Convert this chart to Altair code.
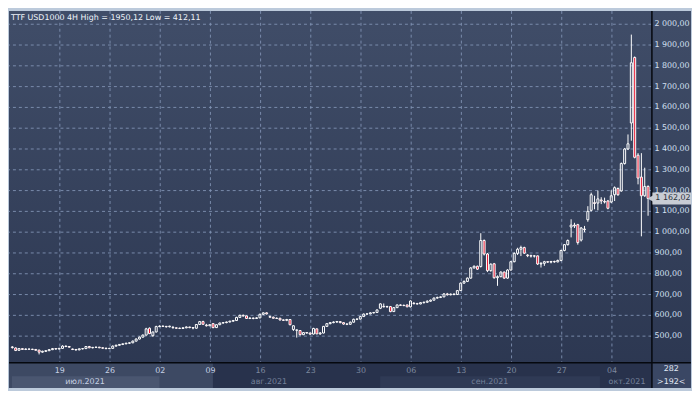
import altair as alt
import pandas as pd

# ---------------- data ----------------
opens = [448, 443, 432, 440, 436, 438, 437, 436, 433, 423,
         427, 430, 435, 440, 438, 441, 452, 450, 438, 436,
         434, 439, 440, 450, 444, 446, 447, 444, 442, 440,
         441, 452, 456, 460, 463, 466, 468, 476, 486, 495,
         505, 538, 502, 520, 546, 548, 547, 545, 542, 540,
         538, 537, 540, 544, 541, 538, 556, 570, 553, 550,
         560, 541, 555, 563, 565, 568, 572, 575, 590, 600,
         597, 585, 587, 585, 588, 605, 612, 594, 591, 586,
         586, 578, 576, 580, 532, 528, 527, 507, 517, 515,
         510, 535, 511, 515, 547, 560, 565, 568, 570, 565,
         558, 557, 567, 581, 582, 594, 606, 607, 612, 614,
         634, 643, 641, 642, 618, 637, 650, 648, 650, 641,
         658, 656, 655, 661, 663, 668, 673, 683, 686, 689,
         703, 699, 702, 700, 719, 755, 763, 779, 828, 836,
         835, 960, 895, 815, 848, 781, 786, 808, 779, 818,
         858, 898, 918, 926, 890, 887, 885, 886, 847, 850,
         858, 856, 859, 857, 864, 912, 940, 1025, 1034, 1036,
         962, 1015, 1060, 1105, 1142, 1140, 1155, 1148, 1150, 1145,
         1180, 1210, 1198, 1330, 1400, 1525, 1840, 1370, 1265, 1175,
         1220]
highs = [452, 446, 443, 442, 441, 440, 439, 437, 434, 430,
         433, 437, 443, 442, 444, 456, 455, 452, 440, 438,
         441, 442, 452, 453, 448, 449, 448, 446, 444, 444,
         455, 459, 462, 465, 468, 470, 479, 489, 498, 508,
         540, 542, 522, 550, 552, 551, 549, 550, 549, 542,
         541, 543, 547, 545, 543, 558, 573, 574, 559, 558,
         563, 557, 565, 567, 570, 574, 578, 593, 603, 604,
         599, 590, 589, 591, 608, 614, 615, 598, 594, 590,
         588, 581, 583, 582, 552, 532, 529, 520, 519, 516,
         540, 537, 520, 549, 563, 568, 571, 573, 572, 563,
         562, 570, 584, 585, 597, 609, 610, 615, 616, 628,
         658, 657, 646, 645, 640, 652, 653, 652, 652, 672,
         664, 660, 663, 666, 672, 676, 686, 690, 692, 707,
         708, 705, 706, 722, 758, 768, 782, 832, 840, 839,
         995, 965, 900, 850, 852, 792, 812, 811, 822, 862,
         903, 925, 935, 930, 894, 892, 890, 888, 856, 862,
         861, 862, 863, 868, 915, 943, 965, 1062, 1045, 1040,
         1025, 1030, 1125, 1190, 1175, 1200, 1168, 1166, 1155, 1202,
         1220, 1215, 1335, 1405, 1470, 1950.12, 1845, 1380, 1380, 1310,
         1225]
lows = [440, 428, 430, 434, 433, 434, 433, 429, 412.11, 420,
        424, 428, 433, 435, 436, 439, 447, 444, 433, 430,
        432, 436, 438, 442, 441, 443, 442, 438, 437, 438,
        440, 450, 454, 457, 461, 462, 466, 474, 484, 493,
        503, 510, 497, 518, 543, 544, 541, 542, 537, 535,
        534, 535, 538, 538, 533, 536, 554, 555, 546, 548,
        538, 539, 553, 560, 562, 566, 569, 573, 588, 594,
        583, 582, 581, 583, 586, 602, 604, 588, 584, 583,
        575, 573, 572, 552, 525, 493, 503, 505, 512, 505,
        508, 509, 506, 513, 545, 557, 562, 564, 562, 555,
        553, 555, 565, 577, 580, 592, 603, 605, 609, 612,
        630, 638, 637, 615, 616, 635, 645, 644, 639, 638,
        653, 652, 653, 657, 660, 665, 671, 680, 683, 687,
        695, 696, 697, 698, 717, 752, 760, 776, 825, 818,
        830, 888, 808, 810, 776, 742, 783, 775, 776, 815,
        855, 890, 885, 895, 880, 878, 878, 842, 830, 838,
        852, 850, 853, 855, 860, 908, 936, 975, 1020, 940,
        955, 1000, 1050, 1100, 1110, 1105, 1135, 1138, 1110, 1140,
        1150, 1175, 1195, 1325, 1395, 1440, 1355, 1230, 980, 1170,
        1079]
closes = [445, 431, 440, 436, 438, 437, 436, 432, 423, 427,
          430, 435, 440, 438, 441, 452, 450, 447, 436, 434,
          439, 440, 450, 444, 446, 447, 444, 442, 440, 441,
          452, 456, 460, 463, 466, 468, 476, 486, 495, 505,
          535, 512, 520, 546, 548, 547, 545, 548, 540, 538,
          537, 540, 544, 541, 539, 556, 570, 557, 550, 555,
          541, 555, 563, 565, 568, 572, 575, 590, 600, 597,
          585, 587, 585, 588, 605, 612, 607, 591, 586, 585,
          578, 576, 580, 555, 550, 530, 507, 517, 515, 510,
          537, 511, 515, 547, 560, 565, 568, 570, 565, 558,
          557, 567, 581, 582, 594, 606, 607, 612, 614, 626,
          655, 641, 642, 618, 637, 650, 648, 647, 641, 669,
          656, 655, 661, 663, 668, 673, 683, 686, 689, 703,
          699, 702, 700, 719, 755, 763, 779, 828, 836, 822,
          960, 895, 815, 846, 781, 786, 808, 779, 818, 858,
          898, 918, 926, 899, 887, 885, 886, 847, 850, 858,
          856, 859, 857, 864, 912, 940, 960, 1034, 1030, 950,
          1020, 1012, 1100, 1180, 1138, 1160, 1150, 1145, 1115, 1175,
          1214, 1180, 1330, 1400, 1425, 1815, 1360, 1260, 1175, 1220,
          1162.02]

week_ticks = [15, 30, 45, 60, 75, 90, 105, 120, 135, 150, 165, 180]
week_labels = ["19", "26", "02", "09", "16", "23", "30", "06", "13", "20", "27", "04"]
month_names = ["июл.2021", "авг.2021", "сен.2021", "окт.2021"]
month_centers = [22.5, 77.5, 143.5, 184.5]
price_ticks = [500, 600, 700, 800, 900, 1000, 1100, 1200, 1300, 1400,
               1500, 1600, 1700, 1800, 1900, 2000]
title_text = "TTF USD1000 4H High = 1950,12 Low = 412,11"
last_price = 1162.02
bars_total = "282"
bars_visible = ">192<"

# ---------------- layout / style ----------------
W, H = 649, 355
AX_R, AX_B = 40, 26
FONT = "DejaVu Sans"
FS = 8
GRID = "#8193b4"


def fmt_price(v):
    return "{:,.2f}".format(v).replace(",", " ").replace(".", ",")


candles = pd.DataFrame({"i": list(range(len(closes))), "open": opens,
                        "high": highs, "low": lows, "close": closes})
one = pd.DataFrame({"k": [0]})
prices_df = pd.DataFrame({"p": price_ticks, "t": [fmt_price(v) for v in price_ticks]})
weeks_df = pd.DataFrame({"w": week_ticks, "t": week_labels})

xscale = alt.Scale(domain=[-0.2, 191.8], nice=False, zero=False, padding=0)
yscale = alt.Scale(domain=[374, 2064], nice=False, zero=False, padding=0)

# background gradient
bg = alt.Chart(one).mark_rect(
    color=alt.LinearGradient(gradient="linear",
                             stops=[alt.GradientStop(color="#404d68", offset=0),
                                    alt.GradientStop(color="#2b3650", offset=1)],
                             x1=0, x2=0, y1=0, y2=1)
).encode(x=alt.value(0), x2=alt.value(W + AX_R), y=alt.value(0), y2=alt.value(H + AX_B))

strip_dark = alt.Chart(one).mark_rect(color="#28324c").encode(
    x=alt.value(0), x2=alt.value(W), y=alt.value(H), y2=alt.value(H + AX_B))
strip_light = alt.Chart(one).mark_rect(color="#3d4963").encode(
    x=alt.value(0), x2=alt.value(206), y=alt.value(H), y2=alt.value(H + AX_B))
band_jul = alt.Chart(one).mark_rect(color="#4a5670").encode(
    x=alt.value(3), x2=alt.value(152), y=alt.value(H + 14), y2=alt.value(H + AX_B))
band_sep = alt.Chart(one).mark_rect(color="#2f3a55").encode(
    x=alt.value(375), x2=alt.value(597), y=alt.value(H + 14), y2=alt.value(H + AX_B))
corner = alt.Chart(one).mark_rect(color="#3a4764").encode(
    x=alt.value(W), x2=alt.value(W + AX_R), y=alt.value(H), y2=alt.value(H + AX_B))

# grid
hgrid = alt.Chart(prices_df).mark_rule(
    color=GRID, strokeDash=[3, 3], strokeWidth=1, opacity=0.9
).encode(y=alt.Y("p:Q", scale=yscale, axis=None))
vgrid = alt.Chart(weeks_df).mark_rule(
    color=GRID, strokeDash=[3, 3], strokeWidth=1, opacity=0.9
).encode(x=alt.X("w:Q", scale=xscale, axis=None))

# candles
base = alt.Chart(candles).transform_calculate(
    xc="datum.i + 0.8",
    top="max(datum.open, datum.close)",
    bot="min(datum.open, datum.close)",
)
wick_hi = base.mark_rule(color="white", strokeWidth=1).encode(
    x=alt.X("xc:Q", scale=xscale, axis=None),
    y=alt.Y("high:Q", scale=yscale, axis=None), y2="top:Q")
wick_lo = base.mark_rule(color="white", strokeWidth=1).encode(
    x=alt.X("xc:Q", scale=xscale, axis=None),
    y=alt.Y("bot:Q", scale=yscale, axis=None), y2="low:Q")
bodies = base.mark_bar(size=2, stroke="white", strokeWidth=1).encode(
    x=alt.X("xc:Q", scale=xscale, axis=None),
    y=alt.Y("open:Q", scale=yscale, axis=None), y2="close:Q",
    fill=alt.condition("datum.close >= datum.open", alt.value("transparent"), alt.value("#e8112d")),
)

# separator lines
vsep = alt.Chart(one).mark_rule(color="#05080e", strokeWidth=1.5).encode(
    x=alt.value(W + 0.5), y=alt.value(0), y2=alt.value(H + AX_B))
hsep = alt.Chart(one).mark_rule(color="#05080e", strokeWidth=1.5).encode(
    x=alt.value(0), x2=alt.value(W + AX_R), y=alt.value(H + 0.5))

# axis labels as text (positioned through the scales)
y_labels = alt.Chart(prices_df).mark_text(
    align="left", baseline="middle", font=FONT, fontSize=FS, color="#d4e0f2"
).encode(x=alt.value(W + 3), y=alt.Y("p:Q", scale=yscale, axis=None), text="t:N")
x_labels = alt.Chart(weeks_df).mark_text(
    align="center", baseline="middle", font=FONT, fontSize=FS
).encode(x=alt.X("w:Q", scale=xscale, axis=None), y=alt.value(H + 9), text="t:N",
         color=alt.condition("datum.w <= 60", alt.value("#c6d1e3"), alt.value("#7c889e")))

title_mark = alt.Chart(pd.DataFrame({"t": [title_text]})).mark_text(
    align="left", baseline="middle", font=FONT, fontSize=FS, color="#eef3fa"
).encode(x=alt.value(2), y=alt.value(7), text="t:N")

months = alt.Chart(pd.DataFrame({"m": month_names, "c": month_centers})).mark_text(
    align="center", baseline="middle", font=FONT, fontSize=FS
).encode(x=alt.X("c:Q", scale=xscale, axis=None), y=alt.value(H + 20), text="m:N",
         color=alt.condition("datum.c < 40", alt.value("#c6d1e3"), alt.value("#74819a")))

lp = pd.DataFrame({"p": [last_price], "t": [fmt_price(last_price)]})
lp_box = alt.Chart(lp).mark_tick(orient="horizontal", size=39, thickness=12, color="#c8ccd4", opacity=1).encode(
    x=alt.value(669.5), y=alt.Y("p:Q", scale=yscale, axis=None))
lp_arrow = alt.Chart(lp).mark_point(shape="triangle-left", filled=True, size=45, color="#c8ccd4", opacity=1).encode(
    x=alt.value(648), y=alt.Y("p:Q", scale=yscale, axis=None))
lp_text = alt.Chart(lp).mark_text(align="left", baseline="middle", font=FONT, fontSize=FS, color="#2b303b").encode(
    x=alt.value(653), y=alt.Y("p:Q", scale=yscale, axis=None), text="t:N")

c1 = alt.Chart(pd.DataFrame({"t": [bars_total]})).mark_text(
    align="center", baseline="middle", font=FONT, fontSize=FS, color="#e2e9f4"
).encode(x=alt.value(W + 20), y=alt.value(H + 7), text="t:N")
c2 = alt.Chart(pd.DataFrame({"t": [bars_visible]})).mark_text(
    align="center", baseline="middle", font=FONT, fontSize=FS, color="#e2e9f4"
).encode(x=alt.value(W + 20), y=alt.value(H + 20), text="t:N")

chart = alt.layer(
    bg, strip_dark, strip_light, band_jul, band_sep, corner,
    hgrid, vgrid, wick_hi, wick_lo, bodies,
    vsep, hsep, y_labels, x_labels, title_mark, months,
    lp_box, lp_arrow, lp_text, c1, c2
).properties(
    width=W, height=H, padding=0, background="#bccadb"
).configure_view(stroke=None)

chart.save("out.html", embed_options={"renderer": "svg", "actions": False})
